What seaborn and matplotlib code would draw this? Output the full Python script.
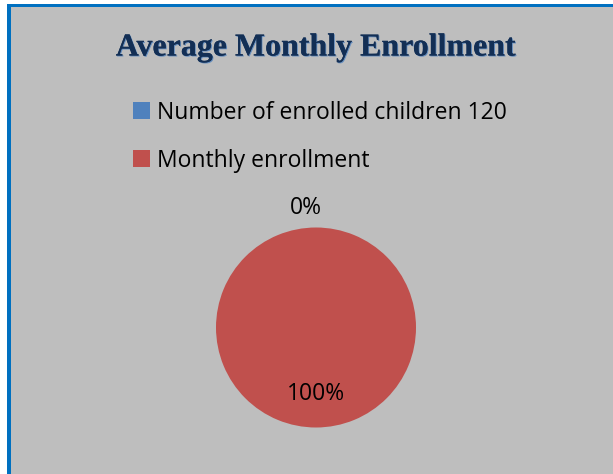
import matplotlib
matplotlib.use("Agg")
import matplotlib.pyplot as plt
import matplotlib.patheffects as pe
from matplotlib.patches import Rectangle
import numpy as np
import seaborn as sns

# Chart data
categories = ["Number of enrolled children 120", "Monthly enrollment"]
values = [0, 120]
slice_colors = ["#4F81BD", "#C0504D"]
title = "Average Monthly Enrollment"

sns.set_style("white")
plt.rcParams["font.family"] = ["Open Sans", "DejaVu Sans"]
plt.rcParams["text.color"] = "black"

W, H = 613, 474
fig = plt.figure(figsize=(W / 100, H / 100), dpi=100, facecolor="white")

# Gray chart area with blue frame on top and left
bg = "#BEBEBE"
border = "#0070C0"
fig.patches.append(Rectangle((7 / W, 0), 1 - 7 / W, 1 - 4 / H,
                             transform=fig.transFigure, facecolor=border,
                             edgecolor="none", zorder=-20))
fig.patches.append(Rectangle((11 / W, 0), 1 - 11 / W, 1 - 7 / H,
                             transform=fig.transFigure, facecolor=bg,
                             edgecolor="none", zorder=-10))

# Title
fig.text(316 / W, 1 - 48 / H, title, ha="center", va="center",
         family=["Liberation Serif"], fontweight="bold", fontsize=23,
         color="#132F55",
         path_effects=[pe.withSimplePatchShadow(offset=(0.7, -0.7),
                                                shadow_rgbFace="#4F81BD",
                                                alpha=0.8),
                       pe.Normal()])

# Pie
cx, cy, r = 316, 327.5, 100
half = 1.3 * r
ax = fig.add_axes([(cx - half) / W, (H - cy - half) / H, 2 * half / W, 2 * half / H],
                  zorder=5)
ax.set_facecolor("none")
wedges, texts, autotexts = ax.pie(values, colors=slice_colors, startangle=90,
                                  counterclock=False, autopct="%1.0f%%",
                                  pctdistance=0.67, radius=1,
                                  wedgeprops=dict(edgecolor="none", linewidth=0),
                                  textprops=dict(fontsize=16.5, color="black"))
total = sum(values)
for w, t, v in zip(wedges, autotexts, values):
    if v / total < 0.05:
        ang = np.deg2rad((w.theta1 + w.theta2) / 2)
        t.set_position((1.2 * np.cos(ang) - 0.1, 1.2 * np.sin(ang)))
ax.set_xlim(-1.3, 1.3)
ax.set_ylim(-1.3, 1.3)
ax.set_aspect("equal")
ax.axis("off")

# Legend
handles = [Rectangle((0, 0), 1, 1, facecolor=c, edgecolor="none") for c in slice_colors]
leg = fig.legend(handles, categories, loc="upper left",
                 bbox_to_anchor=(112 / W, 1 - 80 / H), frameon=False,
                 fontsize=16.5, handlelength=0.75, handleheight=0.75,
                 handletextpad=0.3, labelspacing=1.05)
for t in leg.get_texts():
    t.set_color("black")

fig.savefig("out.png", dpi=100, facecolor="white")
